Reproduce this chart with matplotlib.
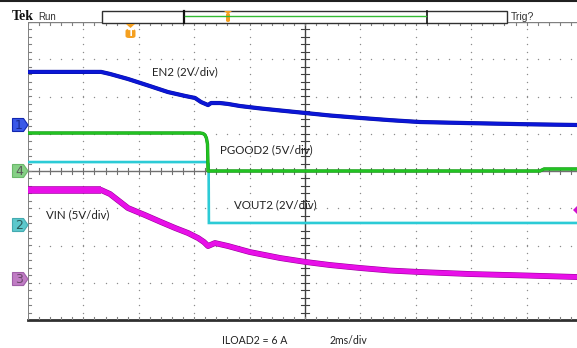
import numpy as np
import matplotlib
matplotlib.use("Agg")
import matplotlib.pyplot as plt
from matplotlib.patches import Rectangle, Polygon, FancyBboxPatch
import matplotlib.patheffects as pe

# ---------------- data (time in ms, 2 ms/div; voltages in V) ----------------
en2_t = [0.0, 2.64, 2.96, 3.61, 4.40, 5.05, 5.67, 6.03, 6.25, 6.50, 6.61, 6.93, 7.22, 7.65, 8.38,
         9.10, 10.04, 10.90, 11.99, 13.07, 14.15, 15.96, 18.01, 19.82]
en2_v = [2.85, 2.85, 2.74, 2.47, 2.09, 1.77, 1.56, 1.45, 1.23, 1.07, 1.18, 1.18, 1.13, 1.02, 0.89,
         0.78, 0.64, 0.51, 0.38, 0.26, 0.16, 0.10, 0.04, 0.0]

pgood_t = [0.0, 6.21, 6.32, 6.39, 6.44, 6.48, 6.50, 18.48, 18.63, 19.82]
pgood_v = [5.10, 5.10, 5.03, 4.83, 4.43, 3.62, 0.0, 0.0, 0.27, 0.27]

vout_t = [0.0, 6.48, 6.52, 6.53, 19.82]
vout_v = [3.38, 3.38, 3.27, 0.11, 0.11]

vin_t = [0.0, 2.64, 2.96, 3.61, 4.22, 4.80, 5.31, 5.78, 6.14, 6.35, 6.50, 6.75, 7.22, 8.01, 9.10,
         10.04, 10.90, 11.99, 13.07, 14.15, 15.96, 18.01, 19.82]
vin_v = [11.95, 11.95, 11.41, 9.53, 8.59, 7.65, 6.85, 6.17, 5.50, 4.97, 4.43, 4.83, 4.43, 3.62, 2.82,
         2.28, 1.88, 1.48, 1.14, 0.94, 0.67, 0.47, 0.27]

# channel setup: volts/div and ground position (divisions from centre)
ch_scale = {"EN2": 2.0, "PGOOD2": 5.0, "VOUT2": 2.0, "VIN": 5.0}
ch_ground = {"EN2": 1.235, "PGOOD2": 0.0, "VOUT2": -1.45, "VIN": -2.9}
ms_per_div = 2.0

labels = ["EN2 (2V/div)", "PGOOD2 (5V/div)", "VOUT2 (2V/div)", "VIN (5V/div)"]
footer = ["ILOAD2 = 6 A", "2ms/div"]

# ---------------- figure ----------------
W, H = 577, 348
fig = plt.figure(figsize=(W / 100, H / 100), dpi=100)
fig.patch.set_facecolor("white")

def fx(px):
    return px / W

def fy(py):
    return 1 - py / H

L, T, R, B = 28, 22, 582, 320
DIVY = (B - T) / 8.0
ax = fig.add_axes([fx(L), fy(B), (R - L) / W, (B - T) / H])
ax.set_xlim(0, 10)
ax.set_ylim(-4, 4)
ax.axis("off")

# dotted graticule
gcol = "#8c8c8c"
for xv in range(1, 10):
    if xv == 5:
        continue
    ys = np.arange(-4, 4.01, 0.2)
    ax.scatter(np.full_like(ys, xv), ys, s=1.0, color=gcol, lw=0, zorder=1)
for yv in range(-3, 4):
    if yv == 0:
        continue
    xs = np.arange(0, 10.01, 0.2)
    ax.scatter(xs, np.full_like(xs, yv), s=1.0, color=gcol, lw=0, zorder=1)

# centre axes with minor ticks
ax.plot([5, 5], [-4, 4], color="#404040", lw=1.0, zorder=2)
ax.plot([0, 10], [0, 0], color="#707070", lw=1.0, zorder=2)
for yv in np.arange(-4, 4.01, 0.2):
    ax.plot([4.93, 5.07], [yv, yv], color="#404040", lw=0.8, zorder=2)
for xv in np.arange(0, 10.01, 0.2):
    ax.plot([xv, xv], [-0.08, 0.08], color="#707070", lw=0.8, zorder=2)
# borders
ax.plot([0, 0], [-4, 4], color="#808080", lw=1.4, zorder=2)
ax.plot([0, 10], [4, 4], color="#808080", lw=1.0, zorder=2)
for yv in np.arange(-4, 4.01, 0.2):
    ax.plot([0, 0.06], [yv, yv], color="#808080", lw=0.8, zorder=2)
for xv in np.arange(0, 10.01, 0.2):
    ax.plot([xv, xv], [4, 3.92], color="#808080", lw=0.8, zorder=2)
ax.plot([0, 10], [-4, -4], color="#303030", lw=2.0, zorder=2, clip_on=False)
for xv in np.arange(0, 10.01, 0.2):
    ax.plot([xv, xv], [-4, -3.92], color="#808080", lw=0.8, zorder=2)

def to_div(name, t, v):
    x = np.asarray(t) / ms_per_div
    y = ch_ground[name] + np.asarray(v) / ch_scale[name]
    return x, y

x, y = to_div("VOUT2", vout_t, vout_v)
ax.plot(x, y, color="#2ccbd6", lw=1.9, zorder=4, solid_joinstyle="miter")
x, y = to_div("PGOOD2", pgood_t, pgood_v)
ax.plot(x, y, color="#22c222", lw=1.9, zorder=5,
        path_effects=[pe.Stroke(linewidth=2.4, foreground="#158f15"), pe.Normal()])
x, y = to_div("EN2", en2_t, en2_v)
ax.plot(x, y, color="#0b16d6", lw=2.4, zorder=5,
        path_effects=[pe.Stroke(linewidth=3.0, foreground="#08109a"), pe.Normal()])
x, y = to_div("VIN", vin_t, vin_v)
ax.plot(x, y, color="#e810e8", lw=3.4, zorder=5,
        path_effects=[pe.Stroke(linewidth=4.2, foreground="#9a009a"), pe.Normal()])
# the steady-state part of VIN shows a wider noise band
ax.plot(x[:2], y[:2], color="#e810e8", lw=4.6, zorder=5, solid_capstyle="butt",
        path_effects=[pe.Stroke(linewidth=5.4, foreground="#9a009a"), pe.Normal()])

# trace labels
font = "Lato"
tc = "#222222"
fig.text(fx(152), fy(72), labels[0], fontsize=8.3, family=font, color=tc, va="center")
fig.text(fx(220), fy(150), labels[1], fontsize=8.3, family=font, color=tc, va="center")
fig.text(fx(234), fy(205), labels[2], fontsize=8.3, family=font, color=tc, va="center")
fig.text(fx(46), fy(215), labels[3], fontsize=8.3, family=font, color=tc, va="center")
fig.text(fx(222), fy(341), footer[0], fontsize=7.6, family=font, color=tc, va="center")
fig.text(fx(330), fy(341), footer[1], fontsize=7.6, family=font, color=tc, va="center")

# header
fig.add_artist(plt.Line2D([0, 1], [fy(0.5), fy(0.5)], color="#202020", lw=1.5, transform=fig.transFigure))
fig.text(fx(12), fy(17), "Tek", fontsize=10, family="Liberation Serif", weight="bold", color="#111111", va="center")
fig.text(fx(38), fy(17), "Run", fontsize=7, family="Liberation Sans", color="#333333", va="center")
fig.text(fx(511), fy(17), "Trig?", fontsize=7.5, family="Liberation Sans", color="#333333", va="center")

def frect(x0, y0, x1, y1, **kw):
    return Rectangle((fx(x0), fy(y1)), fx(x1) - fx(x0), fy(y0) - fy(y1), transform=fig.transFigure, **kw)

fig.add_artist(frect(102, 11, 507, 22.5, facecolor="white", edgecolor="#303030", lw=1.0))
fig.add_artist(plt.Line2D([fx(184), fx(184)], [fy(11), fy(22.5)], color="#111111", lw=1.6, transform=fig.transFigure))
fig.add_artist(plt.Line2D([fx(427), fx(427)], [fy(11), fy(22.5)], color="#111111", lw=1.2, transform=fig.transFigure))
fig.add_artist(plt.Line2D([fx(185), fx(426)], [fy(16), fy(16)], color="#33bb33", lw=1.0, transform=fig.transFigure))

orange = "#f5a020"
# trigger position marker in record bar
fig.add_artist(FancyBboxPatch((fx(226), fy(22)), fx(4), fy(13) - fy(22),
                              boxstyle="round,pad=0,rounding_size=0.004", transform=fig.transFigure,
                              facecolor=orange, edgecolor="none"))
fig.add_artist(Polygon([[fx(224), fy(11)], [fx(232), fy(11)], [fx(228), fy(14)]], closed=True,
                       transform=fig.transFigure, facecolor=orange, edgecolor="none"))
# T marker
fig.add_artist(Polygon([[fx(126), fy(24)], [fx(135), fy(24)], [fx(130.5), fy(28)]], closed=True,
                       transform=fig.transFigure, facecolor=orange, edgecolor="none"))
fig.add_artist(FancyBboxPatch((fx(125.5), fy(38)), fx(10), fy(29) - fy(38),
                              boxstyle="round,pad=0,rounding_size=0.006", transform=fig.transFigure,
                              facecolor=orange, edgecolor="none"))
fig.text(fx(130.5), fy(33.5), "T", fontsize=6.5, weight="bold", family="DejaVu Sans", color="white",
         ha="center", va="center")

# channel ground markers
marker_cols = {
    "EN2": ("1", "#3a58e8", "#1226b0", "#1a2a90"),
    "PGOOD2": ("4", "#86d086", "#6ab86a", "#5a5a5a"),
    "VOUT2": ("2", "#5cc8cc", "#44aab0", "#2a5a5a"),
    "VIN": ("3", "#c07cc4", "#a060a8", "#6a4a6a"),
}
for name, (num, fc, ec, txc) in marker_cols.items():
    ypix = 171 - ch_ground[name] * DIVY
    poly = [[fx(12.5), fy(ypix - 6.5)], [fx(23.5), fy(ypix - 6.5)], [fx(28), fy(ypix)],
            [fx(23.5), fy(ypix + 6.5)], [fx(12.5), fy(ypix + 6.5)]]
    fig.add_artist(Polygon(poly, closed=True, transform=fig.transFigure, facecolor=fc, edgecolor=ec, lw=0.8))
    fig.text(fx(19), fy(ypix + 0.5), num, fontsize=9, family="DejaVu Sans", color=txc, ha="center", va="center")

# trigger level marker on right edge
fig.add_artist(Polygon([[fx(577), fy(206)], [fx(577), fy(214)], [fx(573), fy(210)]], closed=True,
                       transform=fig.transFigure, facecolor="#d010d0", edgecolor="none"))

fig.savefig("out.png", dpi=100, facecolor="white")
